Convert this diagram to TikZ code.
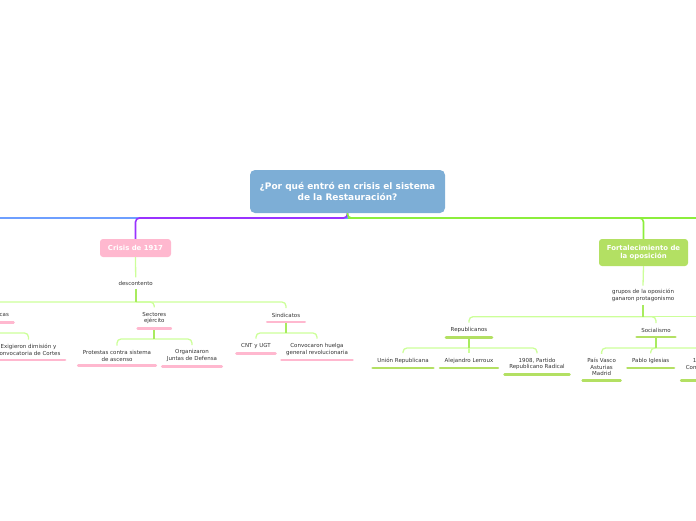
\documentclass[tikz,border=0pt]{standalone}
\usepackage{fontspec}
\setmainfont{DejaVu Sans}
\definecolor{ink}{HTML}{333333}
\definecolor{rootblue}{HTML}{7DAED6}
\definecolor{rosa}{HTML}{FFB8CF}
\definecolor{lima}{HTML}{B3E063}
\definecolor{twig}{HTML}{CCFF99}
\definecolor{stemgreen}{HTML}{A8EB5E}
\definecolor{mainblue}{HTML}{6E9FFF}
\definecolor{mainpurple}{HTML}{9933FF}
\definecolor{maingreen}{HTML}{8CEE3C}

\begin{document}
\begin{tikzpicture}[
    x=1pt,
    y=-1pt,
    font=\fontsize{5.5}{6.5}\selectfont,
    text=ink,
    trunk/.style={line width=1.6pt},
    conn/.style={draw=twig, line width=1.3pt, rounded corners=4pt},
    stem/.style={draw=stemgreen, line width=1.9pt},
    topic/.style={
        rounded corners=3pt,
        text=white,
        font=\fontsize{6.9}{8}\selectfont\bfseries,
        align=center
    },
    leaf/.style={align=center, inner xsep=4.5pt, inner ysep=4.5pt},
    ulpink/.style={draw=rosa, line width=2.6pt, line cap=round},
    ullima/.style={draw=lima, line width=2.6pt, line cap=round}
]
\useasboundingbox (0,0) rectangle (696,520);
\clip (0,0) rectangle (696,520);

% Central question and the main trunk.
\node[topic, fill=rootblue, rounded corners=5pt, minimum width=195, minimum height=43,
    font=\fontsize{9}{10.6}\selectfont\bfseries]
    (root) at (347.5,191.5) {¿Por qué entró en crisis el sistema\\de la Restauración?};
\coordinate (trunk) at (347.5,218);
\coordinate (westend) at (-20,218);
\coordinate (eastend) at (720,218);

\node[topic, fill=rosa, minimum width=71, minimum height=18]
    (crisis) at (135.5,248) {Crisis de 1917};
\node[topic, fill=lima, minimum width=89, minimum height=27]
    (fort) at (643.5,252.5) {Fortalecimiento de\\la oposición};

\draw[trunk, draw=mainblue] (root.south) -- (trunk) -- (westend);
\draw[trunk, draw=mainpurple, rounded corners=4pt] (root.south) -- (trunk) -| (crisis.north);
\draw[trunk, draw=maingreen, rounded corners=4pt] (root.south) -- (trunk) -| (fort.north);
\draw[trunk, draw=maingreen] (trunk) -- (eastend);

% Crisis de 1917 branch.
\node (desc) at (135.7,283) {descontento};
\node[leaf] (pol) at (-14,315) {Fuerzas políticas};
\node[leaf] (sect) at (154.3,318) {Sectores\\ejército};
\node[leaf] (sind) at (286,315) {Sindicatos};
\node[leaf] (exig) at (28.5,349.7) {Exigieron dimisión y\\convocatoria de Cortes};
\node[leaf] (prot) at (117,355.7) {Protestas contra sistema\\de ascenso};
\node[leaf] (junt) at (192,355.7) {Organizaron\\Juntas de Defensa};
\node[leaf] (cnt) at (256,346) {CNT y UGT};
\node[leaf] (huel) at (317,349.3) {Convocaron huelga\\general revolucionaria};

\coordinate (descfork) at (135.7,302);
\coordinate (polfork) at (-14,333);
\coordinate (sectfork) at (154.3,339);
\coordinate (sindfork) at (286,333);

\draw[conn] (crisis.south) -- (desc.north);
\draw[conn] (descfork) -| (pol.north);
\draw[conn] (descfork) -| (sect.north);
\draw[conn] (descfork) -| (sind.north);
\draw[stem] (desc.south) -- (descfork);

\draw[conn] (polfork) -| (exig.north);
\draw[stem] (pol.south) -- (polfork);
\draw[conn] (sectfork) -| (prot.north);
\draw[conn] (sectfork) -| (junt.north);
\draw[stem] (sect.south) -- (sectfork);
\draw[conn] (sindfork) -| (cnt.north);
\draw[conn] (sindfork) -| (huel.north);
\draw[stem] (sind.south) -- (sindfork);

\foreach \n in {pol,sect,sind,exig,prot,junt,cnt,huel}
    \draw[ulpink] (\n.south west) -- (\n.south east);

% Fortalecimiento de la oposicion branch.
\node[align=center] (grp) at (643,295.2) {grupos de la oposición\\ganaron protagonismo};
\node[leaf] (repu) at (469,330) {Republicanos};
\node[leaf] (soc) at (656,330) {Socialismo};
\node[leaf] (union) at (403,360.7) {Unión Republicana};
\node[leaf] (lerr) at (469,360.7) {Alejandro Lerroux};
\node[leaf] (radi) at (537,364) {1908, Partido\\Republicano Radical};
\node[leaf] (pais) at (601.6,367.3) {País Vasco\\Asturias\\Madrid};
\node[leaf] (pablo) at (650.7,360.7) {Pablo Iglesias};
\node[leaf] (psoe) at (709,367.3) {1879, PSOE\\Compromiso con\\la UGT};

\coordinate (grpfork) at (643,316.7);
\coordinate (grpeast) at (720,316.7);
\coordinate (repufork) at (469,348);
\coordinate (socfork) at (656,348);

\draw[conn] (fort.south) -- (grp.north);
\draw[conn] (grpfork) -| (repu.north);
\draw[conn] (grpfork) -| (soc.north);
\draw[conn] (grpfork) -- (grpeast);
\draw[stem] (grp.south) -- (grpfork);

\draw[conn] (repufork) -| (union.north);
\draw[conn] (repufork) -- (lerr.north);
\draw[conn] (repufork) -| (radi.north);
\draw[stem] (repu.south) -- (repufork);
\draw[conn] (socfork) -| (pais.north);
\draw[conn] (socfork) -| (pablo.north);
\draw[conn] (socfork) -| (psoe.north);
\draw[stem] (soc.south) -- (socfork);

\foreach \n in {repu,soc,union,lerr,radi,pais,pablo,psoe}
    \draw[ullima] (\n.south west) -- (\n.south east);

\end{tikzpicture}
\end{document}
